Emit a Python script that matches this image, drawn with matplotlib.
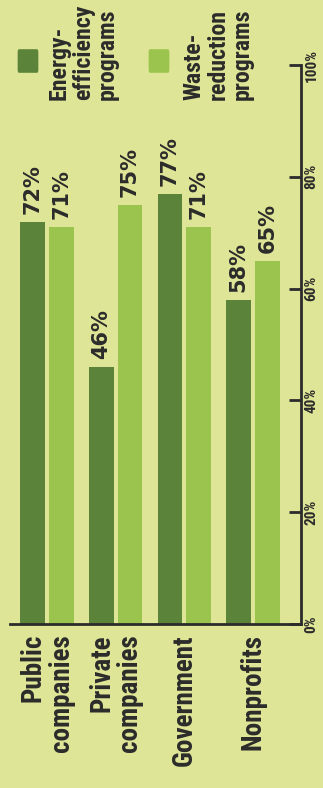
import matplotlib
matplotlib.use("Agg")
import matplotlib.pyplot as plt
from matplotlib import font_manager
from matplotlib.patches import FancyBboxPatch
import matplotlib.transforms as mtransforms

categories = ["Public\ncompanies", "Private\ncompanies", "Government", "Nonprofits"]
energy = [72, 46, 77, 58]
waste = [71, 75, 71, 65]
series_names = ["Energy-\nefficiency\nprograms", "Waste-\nreduction\nprograms"]
ticks = [0, 20, 40, 60, 80, 100]
tick_labels = ["0%", "20%", "40%", "60%", "80%", "100%"]

available = {f.name for f in font_manager.fontManager.ttflist}
NARROW = "DejaVu Sans"
for cand in ["Roboto Condensed", "Liberation Sans Narrow", "DejaVu Sans Condensed", "Roboto", "Lato"]:
    if cand in available:
        NARROW = cand
        break
plt.rcParams["font.family"] = ["DejaVu Sans"]
plt.rcParams["font.weight"] = "bold"

BG = "#dfe596"
DARK = "#5b833a"
LIGHT = "#9bc44e"
TXT = "#2b2b2b"

W, H = 323, 788
fig = plt.figure(figsize=(W / 100, H / 100), dpi=100, facecolor=BG)
ax = fig.add_axes([10 / W, (H - 624) / H, (301 - 10) / W, (624 - 65) / H])
ax.set_facecolor(BG)

x = list(range(len(categories)))
off = 0.21
bw = 0.36
ax.bar([i - off for i in x], energy, width=bw, color=DARK)
ax.bar([i + off for i in x], waste, width=bw, color=LIGHT)
ax.set_xlim(-0.54, 3.70)
ax.set_ylim(0, 100)

for sp in ["top", "left"]:
    ax.spines[sp].set_visible(False)
for sp in ["right", "bottom"]:
    ax.spines[sp].set_color(TXT)
    ax.spines[sp].set_linewidth(2)
ax.yaxis.tick_right()
ax.set_yticks(ticks)
ax.set_yticklabels(tick_labels, rotation=90, va="center", ha="left", fontsize=11,
                   color=TXT, family=[NARROW, "DejaVu Sans"])
ax.tick_params(axis="y", direction="in", length=9, width=2, color=TXT, pad=2.5)
ax.set_xticks([])

pad = mtransforms.offset_copy(ax.transData, fig=fig, x=0, y=8, units="dots")
for vals, o in [(energy, -off), (waste, off)]:
    for i, v in enumerate(vals):
        ax.text(i + o, v, f"{v}%", rotation=90, ha="center", va="bottom",
                fontsize=15, color=TXT, transform=pad)

trans = mtransforms.blended_transform_factory(ax.transData, ax.transAxes)
trans = mtransforms.offset_copy(trans, fig=fig, x=0, y=-10, units="dots")
for i, c in enumerate(categories):
    ax.text(i, 0, c, rotation=90, ha="center", va="top", multialignment="right",
            fontsize=19.5, color=TXT, transform=trans, linespacing=1.05,
            family=[NARROW, "DejaVu Sans"])

# legend
for (sx, tx), col, name in [((17, 83.5), DARK, series_names[0]), ((148, 218), LIGHT, series_names[1])]:
    p = FancyBboxPatch((sx / W + 0.006, 1 - 72 / H + 0.003), 22 / W - 0.012, 22 / H - 0.006,
                       boxstyle="round,pad=0.004", transform=fig.transFigure,
                       facecolor=col, edgecolor="none")
    fig.patches.append(p)
    fig.text(tx / W, 1 - 100 / H, name, rotation=90, ha="center", va="bottom",
             multialignment="left", fontsize=17.2, color=TXT, linespacing=1.05,
             family=[NARROW, "DejaVu Sans"])

fig.savefig("out.png", dpi=100, facecolor=BG)
